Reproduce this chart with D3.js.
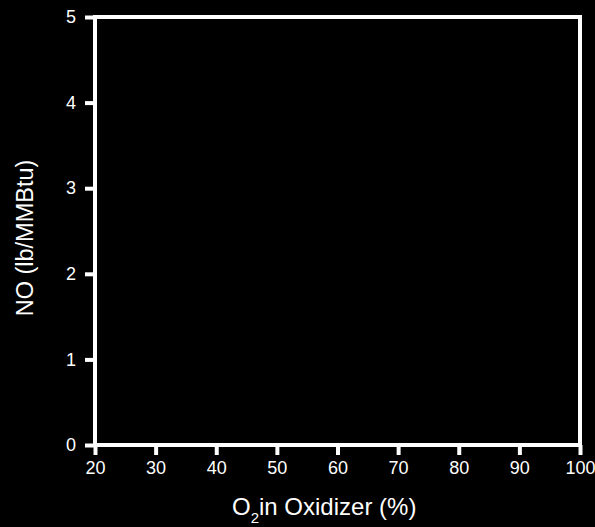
<!DOCTYPE html>
<html>
<head>
<meta charset="utf-8">
<script src="https://cdn.jsdelivr.net/npm/d3@7"></script>
<style>
  html, body { margin: 0; padding: 0; background: #000; }
  svg { display: block; }
  text { font-family: "Liberation Sans", Arial, Helvetica, sans-serif; fill: #fff; }
</style>
</head>
<body>
<svg id="chart"></svg>
<script>
// axis ranges and ticks (plot has no data marks)
const xDomain = [20, 100];
const yDomain = [0, 5];
const xTicks = [20, 30, 40, 50, 60, 70, 80, 90, 100];
const yTicks = [0, 1, 2, 3, 4, 5];
const xTitle = "in Oxidizer (%)";
const yTitle = "NO (lb/MMBtu)";

const width = 595, height = 527;
const margin = { top: 17, right: 15, bottom: 82, left: 95 };

const svg = d3.select("#chart")
  .attr("width", width)
  .attr("height", height);

svg.append("rect")
  .attr("width", width)
  .attr("height", height)
  .attr("fill", "#000");

const x = d3.scaleLinear()
  .domain(xDomain)
  .range([margin.left, width - margin.right]);

const y = d3.scaleLinear()
  .domain(yDomain)
  .range([height - margin.bottom, margin.top]);

// x axis
const xAxis = svg.append("g")
  .attr("transform", `translate(0,${height - margin.bottom})`)
  .call(d3.axisBottom(x).tickValues(xTicks).tickSize(10).tickPadding(6).tickFormat(d3.format("d")));

// y axis
const yAxis = svg.append("g")
  .attr("transform", `translate(${margin.left},0)`)
  .call(d3.axisLeft(y).tickValues(yTicks).tickSize(10).tickPadding(9).tickFormat(d3.format("d")));

[xAxis, yAxis].forEach(g => {
  g.select(".domain").remove();
  g.selectAll(".tick line")
    .attr("stroke", "#fff")
    .style("stroke-width", "4px");
  g.selectAll(".tick text")
    .attr("fill", "#fff")
    .style("font-size", "18px");
});

// frame
svg.append("rect")
  .attr("x", x(xDomain[0]))
  .attr("y", y(yDomain[1]))
  .attr("width", x(xDomain[1]) - x(xDomain[0]))
  .attr("height", y(yDomain[0]) - y(yDomain[1]))
  .attr("fill", "none")
  .attr("stroke", "#fff")
  .attr("stroke-width", 4);

// x title with subscript
const xt = svg.append("text")
  .attr("x", 232)
  .attr("y", 515)
  .style("font-size", "24px");
xt.append("tspan").text("O");
xt.append("tspan").attr("dy", 8).style("font-size", "15px").text("2");
xt.append("tspan").attr("dy", -8).text(xTitle);

// y title
svg.append("text")
  .attr("transform", "translate(33,238) rotate(-90)")
  .attr("text-anchor", "middle")
  .style("font-size", "23.5px")
  .text(yTitle);
</script>
</body>
</html>
